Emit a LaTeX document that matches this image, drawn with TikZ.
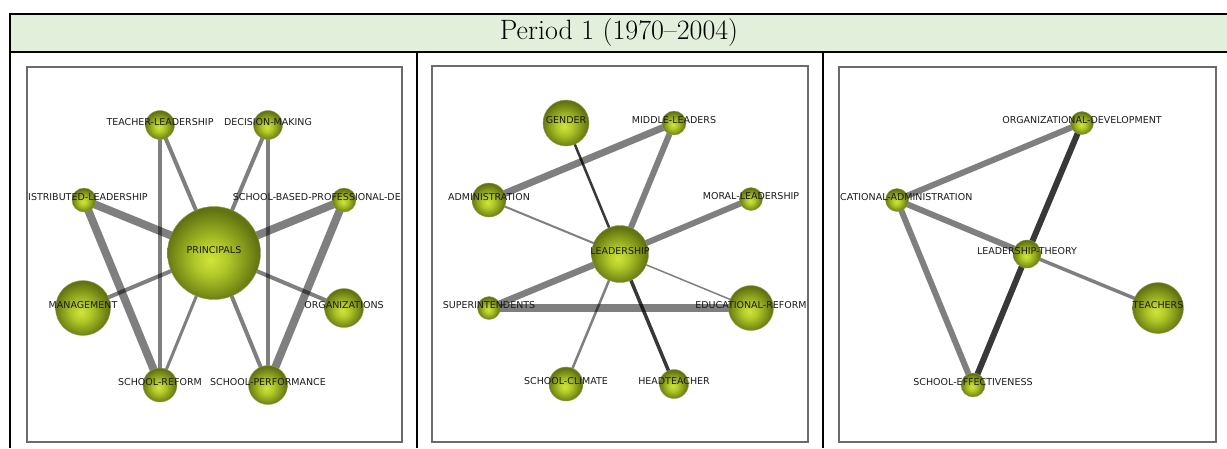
\documentclass[tikz,border=0pt]{standalone}
\usepackage{fontspec}
\newfontfamily\lblfont{DejaVu Sans}
\usetikzlibrary{backgrounds}

\definecolor{titlegreen}{RGB}{226,239,218}
\definecolor{ballhi}{RGB}{208,228,60}
\definecolor{ballmid}{RGB}{176,200,40}
\definecolor{balllow}{RGB}{128,148,24}
\definecolor{ballrim}{RGB}{98,116,18}
\pgfdeclareradialshading{kwball}{\pgfpoint{-2bp}{-4bp}}{color(0bp)=(ballhi); color(9bp)=(ballmid); color(19bp)=(balllow); color(25bp)=(ballrim); color(50bp)=(ballrim)}

\tikzset{
  kw/.style={circle, draw=ballrim!70!white, line width=0.4pt, shading=kwball, inner sep=0pt},
  lbl/.style={font=\lblfont\fontsize{9.5}{10}\selectfont, text=black!90, inner sep=0pt, yshift=3pt},
  lnk/.style={draw=black, draw opacity=0.5},
  dlnk/.style={draw=black, draw opacity=0.78},
  netbox/.style={draw=black!58, line width=1.4pt},
  rule/.style={draw=black, line width=2pt}
}

\begin{document}
\begin{tikzpicture}[x=1pt, y=-1pt]
      \useasboundingbox (0,0) rectangle (1227,448);
      % table frame
      \fill[titlegreen] (10,14) rectangle (1227,52);
      \draw[rule] (9,14) -- (1227,14);
      \draw[rule] (9,52) -- (1227,52);
      \draw[rule] (10,13) -- (10,448);
      \draw[rule] (417,52) -- (417,448);
      \draw[rule] (823,52) -- (823,448);
      \node[font=\fontsize{28}{32}\selectfont] (title) at (619,33) {Period 1 (1970–2004)};
      \draw[netbox] (27,67) rectangle (402,442);
      \draw[netbox] (432,66) rectangle (808,442);
      \draw[netbox] (839,67) rectangle (1216,442);

      % panel 1
      \node[kw, minimum size=93] (pr) at (214,253) {};
      \node[kw, minimum size=29] (tl) at (160,125) {};
      \node[kw, minimum size=29] (dm) at (268,125) {};
      \node[kw, minimum size=24] (dl) at (84,200) {};
      \node[kw, minimum size=24] (sb) at (344,200) {};
      \node[kw, minimum size=55] (mg) at (83,308) {};
      \node[kw, minimum size=39] (og) at (344,308) {};
      \node[kw, minimum size=34] (sr) at (160,385) {};
      \node[kw, minimum size=39] (sp) at (268,385) {};
      \node[lbl] (prT) at (pr) {PRINCIPALS};
      \node[lbl] (tlT) at (tl) {TEACHER-LEADERSHIP};
      \node[lbl] (dmT) at (dm) {DECISION-MAKING};
      \node[lbl, anchor=west] (dlT) at (28,200) {ISTRIBUTED-LEADERSHIP};
      \node[lbl, anchor=east] (sbT) at (401,200) {SCHOOL-BASED-PROFESSIONAL-DE};
      \node[lbl] (mgT) at (mg) {MANAGEMENT};
      \node[lbl] (ogT) at (og) {ORGANIZATIONS};
      \node[lbl] (srT) at (sr) {SCHOOL-REFORM};
      \node[lbl] (spT) at (sp) {SCHOOL-PERFORMANCE};

      % panel 2
      \node[kw, minimum size=57] (le) at (620,254) {};
      \node[kw, minimum size=46] (ge) at (566,123) {};
      \node[kw, minimum size=24] (mi) at (674,123) {};
      \node[kw, minimum size=34] (ad) at (489,200) {};
      \node[kw, minimum size=23] (mo) at (751,199) {};
      \node[kw, minimum size=23] (su) at (489,308) {};
      \node[kw, minimum size=45] (ed) at (751,308) {};
      \node[kw, minimum size=34] (sc) at (566,384) {};
      \node[kw, minimum size=29] (he) at (674,384) {};
      \node[lbl] (leT) at (le) {LEADERSHIP};
      \node[lbl] (geT) at (ge) {GENDER};
      \node[lbl] (miT) at (mi) {MIDDLE-LEADERS};
      \node[lbl] (adT) at (ad) {ADMINISTRATION};
      \node[lbl] (moT) at (mo) {MORAL-LEADERSHIP};
      \node[lbl] (suT) at (su) {SUPERINTENDENTS};
      \node[lbl] (edT) at (ed) {EDUCATIONAL-REFORM};
      \node[lbl] (scT) at (sc) {SCHOOL-CLIMATE};
      \node[lbl] (heT) at (he) {HEADTEACHER};

      % panel 3
      \node[kw, minimum size=23] (od) at (1082,123) {};
      \node[kw, minimum size=23] (ea) at (897,200) {};
      \node[kw, minimum size=28] (lt) at (1027,254) {};
      \node[kw, minimum size=51] (te) at (1158,308) {};
      \node[kw, minimum size=24] (se) at (973,385) {};
      \node[lbl] (odT) at (od) {ORGANIZATIONAL-DEVELOPMENT};
      \node[lbl, anchor=west] (eaT) at (840,200) {CATIONAL-ADMINISTRATION};
      \node[lbl] (ltT) at (lt) {LEADERSHIP-THEORY};
      \node[lbl] (teT) at (te) {TEACHERS};
      \node[lbl] (seT) at (se) {SCHOOL-EFFECTIVENESS};

      \begin{scope}[on background layer]
        % links, panel 1
        \draw[lnk, line width=4pt] (pr.center) -- (tl.center);
        \draw[lnk, line width=4pt] (pr.center) -- (dm.center);
        \draw[lnk, line width=4pt] (tl.center) -- (sr.center);
        \draw[lnk, line width=4pt] (dm.center) -- (sp.center);
        \draw[lnk, line width=8pt] (dl.center) -- (pr.center);
        \draw[lnk, line width=8pt] (dl.center) -- (sr.center);
        \draw[lnk, line width=8pt] (sb.center) -- (pr.center);
        \draw[lnk, line width=8pt] (sb.center) -- (sp.center);
        \draw[lnk, line width=4pt] (mg.center) -- (pr.center);
        \draw[lnk, line width=4pt] (og.center) -- (pr.center);
        \draw[lnk, line width=3pt] (pr.center) -- (sr.center);
        \draw[lnk, line width=4pt] (pr.center) -- (sp.center);
        % links, panel 2
        \draw[dlnk, line width=2.5pt] (ge.center) -- (le.center);
        \draw[lnk, line width=7pt] (mi.center) -- (ad.center);
        \draw[lnk, line width=6pt] (mi.center) -- (le.center);
        \draw[lnk, line width=2pt] (ad.center) -- (le.center);
        \draw[lnk, line width=6pt] (mo.center) -- (le.center);
        \draw[lnk, line width=6.5pt] (le.center) -- (su.center);
        \draw[lnk, line width=8pt] (su.center) -- (ed.center);
        \draw[lnk, line width=1.5pt] (le.center) -- (ed.center);
        \draw[lnk, line width=2.5pt] (le.center) -- (sc.center);
        \draw[dlnk, line width=3.5pt] (le.center) -- (he.center);
        % links, panel 3
        \draw[lnk, line width=6pt] (od.center) -- (ea.center);
        \draw[dlnk, line width=6pt] (od.center) -- (lt.center);
        \draw[dlnk, line width=6pt] (lt.center) -- (se.center);
        \draw[lnk, line width=6pt] (ea.center) -- (lt.center);
        \draw[lnk, line width=6pt] (ea.center) -- (se.center);
        \draw[lnk, line width=3.5pt] (lt.center) -- (te.center);
      \end{scope}
    \end{tikzpicture}
\end{document}
